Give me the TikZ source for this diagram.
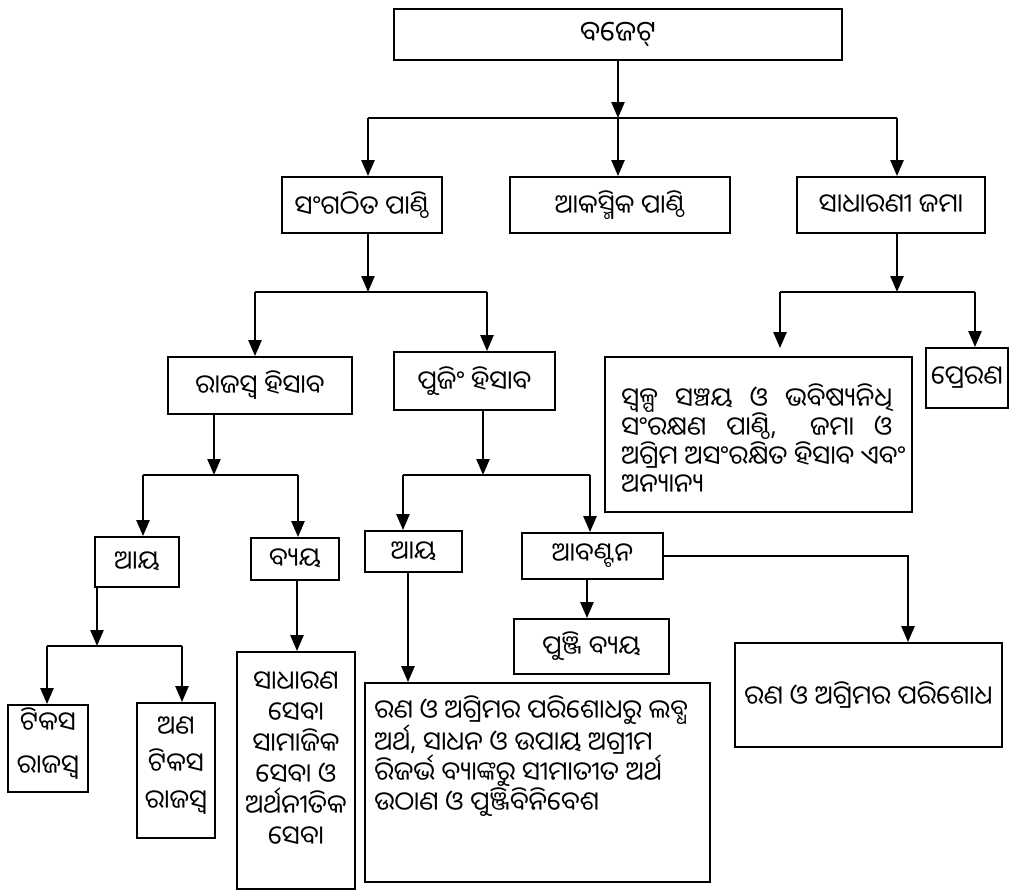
\documentclass[tikz,border=0pt]{standalone}
\usepackage{fontspec}
\newfontfamily\odia[Script=Oriya]{Noto Sans Oriya UI}
\usetikzlibrary{arrows.meta}
\newcommand{\jline}[1]{\hbox to 271pt{#1}}
\begin{document}
\begin{tikzpicture}[x=1pt,y=-1pt,
  box/.style={draw, line width=1.8pt, inner sep=0pt, font=\odia\fontsize{26}{30}\selectfont, align=center},
  ln/.style={line width=2.4pt},
  arr/.style={ln, -{Triangle[width=13pt,length=16pt]}},
  txt/.style={inner sep=0pt, font=\odia\fontsize{26}{30}\selectfont, align=left}]
\useasboundingbox (0,0) rectangle (1019,891);
\fill[white] (0,0) rectangle (1019,891);
% boxes
\node[box, minimum width=448, minimum height=51, font=\odia\fontsize{28}{30}\selectfont] (budget) at (618,34.5) {ବଜେଟ୍};
\node[box, minimum width=160, minimum height=56] (sang) at (362,205) {ସଂଗଠିତ ପାଣ୍ଠି};
\node[box, minimum width=220, minimum height=56] (akas) at (620,205) {ଆକସ୍ମିକ ପାଣ୍ଠି};
\node[box, minimum width=188, minimum height=56] (sadh) at (891,205) {ସାଧାରଣୀ ଜମା};
\node[box, minimum width=184, minimum height=57] (raj) at (260,385.5) {ରାଜସ୍ୱ ହିସାବ};
\node[box, minimum width=161, minimum height=58] (punji) at (474.5,381) {ପୁଜିଂ ହିସାବ};
\node[box, minimum width=307, minimum height=155] (swalpa) at (758.5,434.5) {};
\node[txt, anchor=north west, font=\odia\fontsize{26}{28.5}\selectfont] (swalpatxt) at ([xshift=17pt,yshift=-27pt]swalpa.north west) {\jline{ସ୍ୱଳ୍ପ \hfill ସଞ୍ଚୟ \hfill ଓ \hfill ଭବିଷ୍ୟନିଧି}\\\jline{ସଂରକ୍ଷଣ \hfill ପାଣ୍ଠି, \hfill\hfill ଜମା \hfill ଓ}\\ଅଗ୍ରିମ ଅସଂରକ୍ଷିତ ହିସାବ ଏବଂ\\ଅନ୍ୟାନ୍ୟ};
\node[box, minimum width=82, minimum height=60] (prer) at (967,378) {ପ୍ରେରଣ};
\node[box, minimum width=84, minimum height=50] (aya1) at (137,562) {ଆୟ};
\node[box, minimum width=88, minimum height=42] (byaya) at (295,559) {ବ୍ୟୟ};
\node[box, minimum width=97, minimum height=41] (aya2) at (413.5,551.5) {ଆୟ};
\node[box, minimum width=141, minimum height=46] (aban) at (592.5,556) {ଆବଣ୍ଟନ};
\node[box, minimum width=155, minimum height=55] (pbyaya) at (591.5,646.5) {ପୁଞ୍ଜି ବ୍ୟୟ};
\node[box, minimum width=80, minimum height=87] (tikasa) at (48,748.5) {};
\node[txt, align=center, font=\odia\fontsize{26}{43}\selectfont] (tikasatxt) at ([yshift=5pt]tikasa.center) {ଟିକସ\\ରାଜସ୍ୱ};
\node[box, minimum width=78, minimum height=135] (anatik) at (176,770.5) {};
\node[txt, align=center, font=\odia\fontsize{26}{37}\selectfont] (anatiktxt) at ([yshift=5pt]anatik.center) {ଅଣ\\ଟିକସ\\ରାଜସ୍ୱ};
\node[box, minimum width=118, minimum height=237] (sadharana) at (296,770.5) {};
\node[txt, align=center, font=\odia\fontsize{26}{31}\selectfont] (sadharanatxt) at ([yshift=11pt]sadharana.center) {ସାଧାରଣ\\ସେବା\\ସାମାଜିକ\\ସେବା ଓ\\ଅର୍ଥନୀତିକ\\ସେବା};
\node[box, minimum width=345, minimum height=199] (rina1) at (537.5,782.5) {};
\node[txt, anchor=north west] (rina1txt) at ([xshift=10pt,yshift=-13pt]rina1.north west) {ରଣ ଓ ଅଗ୍ରିମର ପରିଶୋଧରୁ ଲବ୍ଧ\\ଅର୍ଥ, ସାଧନ ଓ ଉପାୟ ଅଗ୍ରୀମ\\ରିଜର୍ଭ ବ୍ୟାଙ୍କରୁ ସୀମାତୀତ ଅର୍ଥ\\ଉଠାଣ ଓ ପୁଞ୍ଜିବିନିବେଶ};
\node[box, minimum width=267, minimum height=104] (rina2) at (868.5,695) {ରଣ ଓ ଅଗ୍ରିମର ପରିଶୋଧ};
% connectors
\coordinate (j0) at (618,118); \coordinate (j0l) at (368,118); \coordinate (j0r) at (897,118);
\draw[arr] (budget.south -| j0) -- (j0);
\draw[ln] (j0l) -- (j0r);
\draw[arr] (j0l) -- (j0l |- sang.north);
\draw[arr] (j0) -- (j0 |- akas.north);
\draw[arr] (j0r) -- (j0r |- sadh.north);
\coordinate (j1) at (368,292); \coordinate (j1l) at (255,292); \coordinate (j1r) at (487,292);
\draw[arr] (sang.south -| j1) -- (j1);
\draw[ln] (j1l) -- (j1r);
\draw[arr] (j1l) -- (j1l |- raj.north);
\draw[arr] (j1r) -- (j1r |- punji.north);
\coordinate (j2) at (897,292); \coordinate (j2l) at (780,292); \coordinate (j2r) at (975,292);
\coordinate (s2) at (j2l |- swalpa.north);
\draw[arr] (sadh.south -| j2) -- (j2);
\draw[ln] (j2l) -- (j2r);
\draw[arr] (j2l) -- ([yshift=8pt]s2);
\draw[arr] (j2r) -- (j2r |- prer.north);
\coordinate (j3) at (214,475); \coordinate (j3l) at (143,475); \coordinate (j3r) at (298,475);
\draw[arr] (raj.south -| j3) -- (j3);
\draw[ln] (j3l) -- (j3r);
\draw[arr] (j3l) -- (j3l |- aya1.north);
\draw[arr] (j3r) -- (j3r |- byaya.north);
\coordinate (j4) at (483,475); \coordinate (j4l) at (403,475); \coordinate (j4r) at (590,475);
\draw[arr] (punji.south -| j4) -- (j4);
\draw[ln] (j4l) -- (j4r);
\draw[arr] (j4l) -- (j4l |- aya2.north);
\draw[arr] (j4r) -- (j4r |- aban.north);
\coordinate (j5) at (97,646); \coordinate (j5l) at (47,646); \coordinate (j5r) at (182,646);
\draw[arr] (aya1.south -| j5) -- (j5);
\draw[ln] (j5l) -- (j5r);
\draw[arr] (j5l) -- (j5l |- tikasa.north);
\draw[arr] (j5r) -- (j5r |- anatik.north);
\coordinate (k1) at (297,0);
\draw[arr] (byaya.south -| k1) -- (sadharana.north -| k1);
\coordinate (k2) at (408,0);
\draw[arr] (aya2.south -| k2) -- (rina1.north -| k2);
\coordinate (k3) at (908,0);
\draw[arr] (aban.east) -| (rina2.north -| k3);
\coordinate (k4) at (587,0);
\draw[arr] (aban.south -| k4) -- (pbyaya.north -| k4);
\end{tikzpicture}
\end{document}
